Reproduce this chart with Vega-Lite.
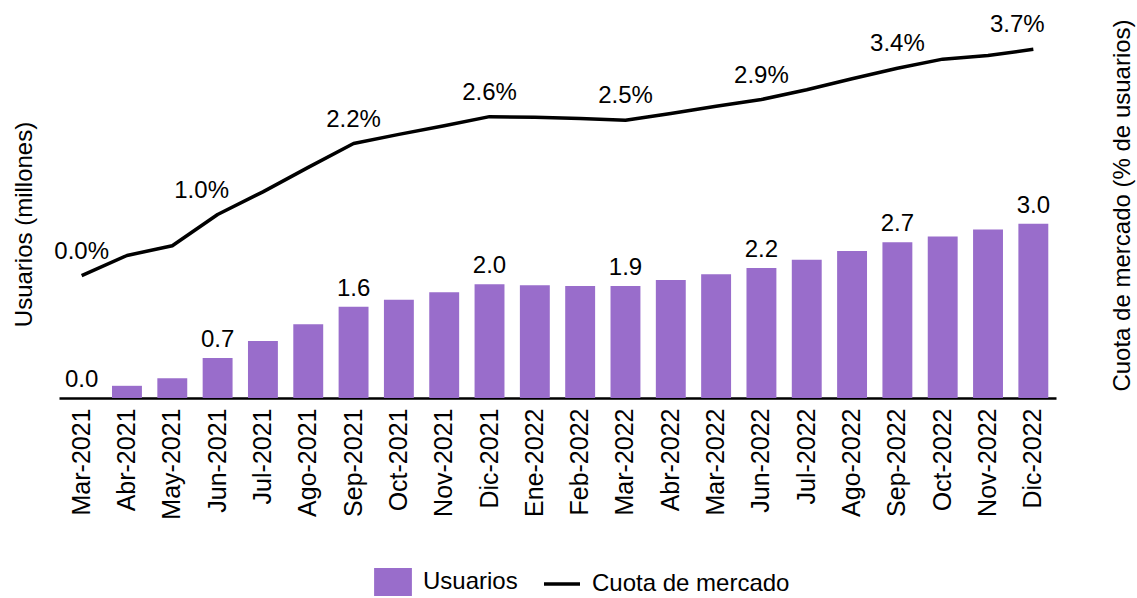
{
  "$schema": "https://vega.github.io/schema/vega-lite/v6.json",
  "autosize": {"type": "none"},
  "padding": {"left": 59, "top": 31, "right": 81, "bottom": 200},
  "width": 997,
  "height": 367,
  "config": {
    "view": {"stroke": null},
    "font": "Liberation Sans",
    "text": {"font": "Liberation Sans", "fontSize": 24, "color": "#000000"},
    "axis": {"labelFont": "Liberation Sans", "titleFont": "Liberation Sans", "titleFontWeight": "normal", "labelColor": "#000000", "titleColor": "#000000", "grid": false},
    "legend": {"labelFont": "Liberation Sans", "labelFontSize": 24, "labelColor": "#000000", "labelLimit": 0}
  },
  "data": {
    "values": [
      {"orden": 0, "mes": "Mar-2021", "usuarios": 0.0, "cuota": 0.0},
      {"orden": 1, "mes": "Abr-2021", "usuarios": 0.21, "cuota": 0.0033},
      {"orden": 2, "mes": "May-2021", "usuarios": 0.34, "cuota": 0.0049},
      {"orden": 3, "mes": "Jun-2021", "usuarios": 0.69, "cuota": 0.0100},
      {"orden": 4, "mes": "Jul-2021", "usuarios": 0.98, "cuota": 0.0137},
      {"orden": 5, "mes": "Ago-2021", "usuarios": 1.27, "cuota": 0.0177},
      {"orden": 6, "mes": "Sep-2021", "usuarios": 1.57, "cuota": 0.0216},
      {"orden": 7, "mes": "Oct-2021", "usuarios": 1.69, "cuota": 0.0231},
      {"orden": 8, "mes": "Nov-2021", "usuarios": 1.82, "cuota": 0.0245},
      {"orden": 9, "mes": "Dic-2021", "usuarios": 1.96, "cuota": 0.0260},
      {"orden": 10, "mes": "Ene-2022", "usuarios": 1.94, "cuota": 0.0259},
      {"orden": 11, "mes": "Feb-2022", "usuarios": 1.93, "cuota": 0.0257},
      {"orden": 12, "mes": "Mar-2022", "usuarios": 1.93, "cuota": 0.0254},
      {"orden": 13, "mes": "Abr-2022", "usuarios": 2.03, "cuota": 0.0265},
      {"orden": 14, "mes": "Mar-2022", "usuarios": 2.13, "cuota": 0.0277},
      {"orden": 15, "mes": "Jun-2022", "usuarios": 2.24, "cuota": 0.0288},
      {"orden": 16, "mes": "Jul-2022", "usuarios": 2.38, "cuota": 0.0304},
      {"orden": 17, "mes": "Ago-2022", "usuarios": 2.53, "cuota": 0.0322},
      {"orden": 18, "mes": "Sep-2022", "usuarios": 2.68, "cuota": 0.0339},
      {"orden": 19, "mes": "Oct-2022", "usuarios": 2.78, "cuota": 0.0354},
      {"orden": 20, "mes": "Nov-2022", "usuarios": 2.90, "cuota": 0.0360},
      {"orden": 21, "mes": "Dic-2022", "usuarios": 3.00, "cuota": 0.0370}
    ]
  },
  "encoding": {
    "x": {
      "field": "orden",
      "type": "ordinal",
      "scale": {"paddingInner": 0.34, "paddingOuter": 0.17},
      "axis": {
        "title": null,
        "labelAngle": -90,
        "labelFontSize": 25,
        "labelPadding": 10,
        "ticks": false,
        "domain": true,
        "domainColor": "#000000",
        "domainWidth": 2.5,
        "labelExpr": "['Mar-2021','Abr-2021','May-2021','Jun-2021','Jul-2021','Ago-2021','Sep-2021','Oct-2021','Nov-2021','Dic-2021','Ene-2022','Feb-2022','Mar-2022','Abr-2022','Mar-2022','Jun-2022','Jul-2022','Ago-2022','Sep-2022','Oct-2022','Nov-2022','Dic-2022'][datum.value]"
      }
    }
  },
  "layer": [
    {
      "encoding": {
        "y": {
          "field": "usuarios",
          "type": "quantitative",
          "scale": {"domain": [0, 6.32], "nice": false},
          "axis": {
            "orient": "left",
            "title": "Usuarios (millones)",
            "titleFontSize": 24,
            "labels": false,
            "ticks": false,
            "domain": false,
            "grid": false,
            "titleX": -35,
            "titleY": 193,
            "titleAngle": -90,
            "titleAlign": "center",
            "titleBaseline": "middle"
          }
        }
      },
      "layer": [
        {
          "mark": {"type": "bar"},
          "encoding": {
            "fill": {
              "datum": "Usuarios",
              "scale": {"range": ["#996dcb"]},
              "legend": {
                "orient": "none",
                "legendX": 320,
                "legendY": 537,
                "title": null,
                "symbolType": "M-1.35,-1H1.35V1H-1.35Z",
                "symbolSize": 784,
                "symbolStrokeWidth": 0,
                "labelOffset": 16
              }
            }
          }
        },
        {
          "transform": [{"filter": "datum.orden % 3 == 0"}],
          "mark": {"type": "text", "baseline": "alphabetic", "dy": -11},
          "encoding": {
            "text": {"field": "usuarios", "type": "quantitative", "format": ".1f"}
          }
        }
      ]
    },
    {
      "encoding": {
        "y": {
          "field": "cuota",
          "type": "quantitative",
          "scale": {"domain": [-0.02, 0.04], "nice": false, "zero": false},
          "axis": {
            "orient": "right",
            "title": "Cuota de mercado (% de usuarios)",
            "titleFontSize": 24,
            "labels": false,
            "ticks": false,
            "domain": false,
            "grid": false,
            "titleX": 66,
            "titleY": 174,
            "titleAngle": -90,
            "titleAlign": "center",
            "titleBaseline": "middle"
          }
        }
      },
      "layer": [
        {
          "mark": {"type": "line", "strokeWidth": 3.5, "strokeJoin": "round"},
          "encoding": {
            "stroke": {
              "datum": "Cuota de mercado",
              "scale": {"range": ["#000000"]},
              "legend": {
                "orient": "none",
                "legendX": 483,
                "legendY": 533,
                "title": null,
                "symbolType": "stroke",
                "symbolSize": 1296,
                "symbolStrokeWidth": 3.5,
                "labelOffset": 10,
                "labelLimit": 0
              }
            }
          }
        },
        {
          "transform": [{"filter": "datum.orden % 3 == 0 && datum.orden != 3 && datum.orden != 21"}],
          "mark": {"type": "text", "baseline": "alphabetic", "dy": -17},
          "encoding": {
            "text": {"field": "cuota", "type": "quantitative", "format": ".1%"}
          }
        },
        {
          "transform": [{"filter": "datum.orden == 3 || datum.orden == 21"}],
          "mark": {"type": "text", "baseline": "alphabetic", "dy": -17, "dx": -16},
          "encoding": {
            "text": {"field": "cuota", "type": "quantitative", "format": ".1%"}
          }
        }
      ]
    }
  ],
  "resolve": {"scale": {"y": "independent"}}
}
